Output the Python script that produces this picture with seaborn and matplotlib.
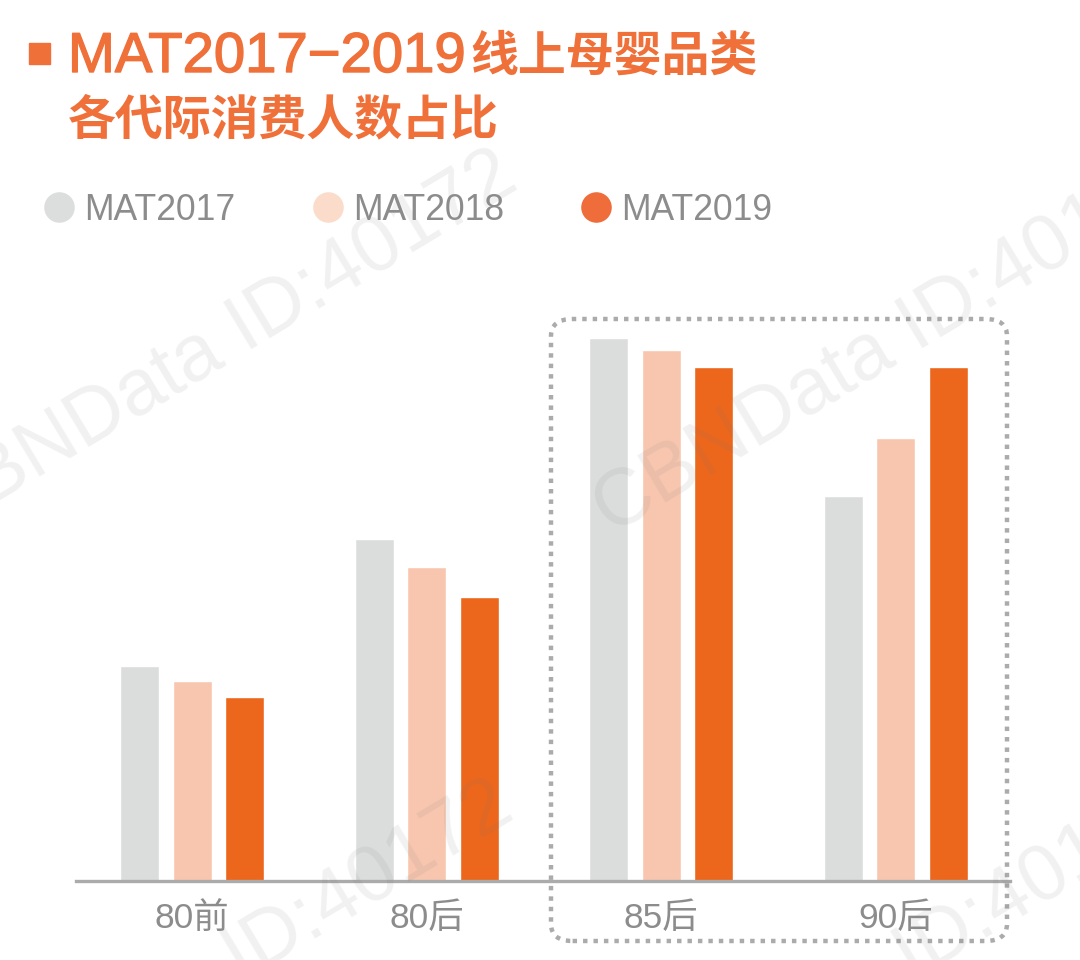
import pandas as pd
import matplotlib.pyplot as plt
import matplotlib.patheffects as pe
import seaborn as sns
from matplotlib.lines import Line2D
from matplotlib.patches import FancyBboxPatch, Rectangle

# --- DATI ---
generations = ["80前", "80后", "85后", "90后"]
mat2017 = [14.5, 23.1, 36.7, 26.0]
mat2018 = [13.5, 21.25, 35.9, 29.95]
mat2019 = [12.45, 19.2, 34.7, 34.7]
series_names = ["MAT2017", "MAT2018", "MAT2019"]

bar_colors = ["#DBDDDC", "#F8C6AF", "#EC671C"]
legend_colors = ["#DCDEDD", "#FBDCCB", "#EF6D3B"]
title_color = "#F0703A"
grey_text = "#8C8C8C"
FONTS = ["Liberation Sans", "Noto Sans CJK SC"]

df = pd.DataFrame({"generation": generations, "MAT2017": mat2017,
                   "MAT2018": mat2018, "MAT2019": mat2019})
df = df.melt(id_vars="generation", var_name="period", value_name="share")

sns.set_style("white")
plt.rcParams["font.family"] = FONTS

W, H = 1080, 960
fig = plt.figure(figsize=(W / 100, H / 100), dpi=100)


def px(x, y):
    # pixel dell'immagine -> coordinate figura
    return x / W, 1 - y / H


# assi: baseline a y=881, da x=76 a x=1010
ax = fig.add_axes([76 / W, 1 - 881 / H, 934 / W, 631 / H])
sns.barplot(data=df, x="generation", y="share", hue="period", hue_order=series_names,
            palette=bar_colors, width=0.672, gap=0.26, saturation=1, legend=False, ax=ax)
ax.set_xlim(-0.496, 3.488)
ax.set_ylim(0, 631 / 14.8)
ax.set_xlabel("")
ax.set_ylabel("")
ax.set_yticks([])
ax.patch.set_alpha(0)
for side in ["top", "left", "right"]:
    ax.spines[side].set_visible(False)
ax.spines["bottom"].set_color("#ABABAB")
ax.spines["bottom"].set_linewidth(2.4)
ax.tick_params(axis="x", length=0, pad=15, labelsize=25.5, labelcolor=grey_text)

# titolo
fig.add_artist(Rectangle(px(29, 64), 21 / W, 21 / H, color=title_color,
                         transform=fig.transFigure))
fig.text(*px(68, 72), "MAT2017−2019", color=title_color, fontsize=40.5,
         family=FONTS, va="baseline",
         path_effects=[pe.withStroke(linewidth=1.0, foreground=title_color)])
fig.text(*px(470, 71), "线上母婴品类", color=title_color, fontsize=34.5, fontweight="bold",
         family=FONTS, va="baseline")
fig.text(*px(68, 134), "各代际消费人数占比", color=title_color, fontsize=34.5, fontweight="bold",
         family=FONTS, va="baseline")

# legenda
handles = [Line2D([], [], linestyle="none", marker="o", markersize=22, color=c,
                  markeredgewidth=0) for c in legend_colors]
leg = fig.legend(handles, series_names, ncol=3, frameon=False, fontsize=25.6,
                 loc="center left", bbox_to_anchor=px(41.5, 210), labelcolor=grey_text,
                 handlelength=1.0, handletextpad=0.2, columnspacing=2.1,
                 borderpad=0, borderaxespad=0)

# riquadro tratteggiato attorno a 85后 / 90后
box = FancyBboxPatch(px(551, 941), 456 / W, 622 / H, transform=fig.transFigure,
                     boxstyle="round,pad=0,rounding_size=0.02", mutation_aspect=H / W,
                     fill=False, edgecolor="#ABABAB", linewidth=3.2,
                     linestyle=(0, (1, 1.35)), capstyle="butt")
fig.add_artist(box)

# filigrana
for x, y in [(-60, 536), (611, 535), (-64, 1166), (607, 1165)]:
    fig.text(*px(x, y), "CBNData ID:40172", color="#777777", alpha=0.1, fontsize=57,
             rotation=31, rotation_mode="anchor", family=FONTS, va="baseline", zorder=5)

plt.savefig("out.png", dpi=100)
